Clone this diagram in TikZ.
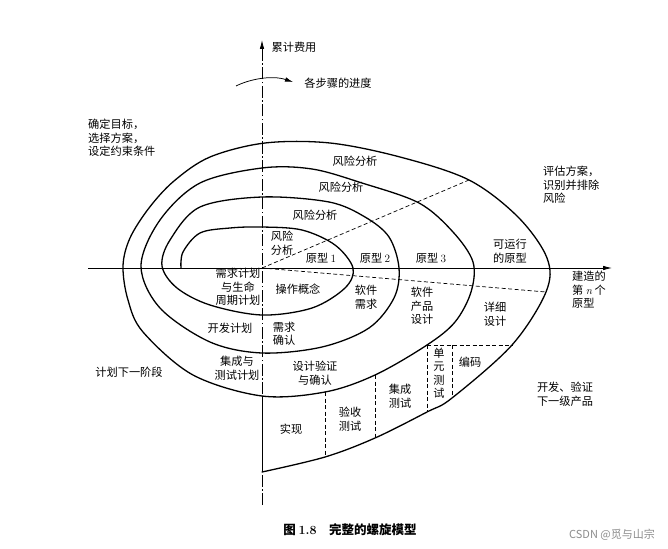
\documentclass[tikz,border=0pt]{standalone}
\usepackage{fontspec}
\newfontfamily\cjk{Noto Sans CJK SC}
\usetikzlibrary{arrows.meta}
\newcommand\latn[1]{{\rmfamily #1}}
\begin{document}
\begin{tikzpicture}[x=1pt,y=-1pt,
  spiral/.style={line width=1.3pt, line join=round, line cap=round},
  axisline/.style={line width=0.75pt},
  dashdot/.style={line width=0.75pt, dash pattern=on 12pt off 2.5pt on 1.5pt off 2.5pt},
  cellline/.style={line width=0.7pt, dash pattern=on 4pt off 2.5pt},
  tip/.style={-{Latex[length=9pt,width=4.5pt]}},
  lbl/.style={font=\cjk\fontsize{11.2}{13.5}\selectfont, inner sep=0pt, align=center},
  lbll/.style={lbl, align=left, anchor=west},
  capt/.style={font=\cjk\bfseries\fontsize{12.5}{14}\selectfont, inner sep=0pt},
  wmark/.style={font=\cjk\fontsize{11}{13}\selectfont, inner sep=0pt, text=black!45}]
\fill[white] (0,0) rectangle (668,548);
\useasboundingbox (0,0) rectangle (668,548);

% key coordinates
\coordinate (O) at (262,268);
\coordinate (hl) at (88,268);
\coordinate (hr) at (612,268);
\coordinate (vtop) at (262,40);
\coordinate (vbot) at (262,505);
\coordinate (b3) at (262,396);
\coordinate (b4) at (262,472);
\coordinate (c3a) at (325,392);
\coordinate (c3b) at (375,375);
\coordinate (c3c) at (427,345);
\coordinate (c4a) at (325,457);
\coordinate (c4b) at (375,438);
\coordinate (c4c) at (427,412);
\coordinate (c4d) at (452,398);
\coordinate (c4e) at (512,345);
\coordinate (c4f) at (452,345);
\coordinate (r1) at (469,180);
\coordinate (r2) at (546,292);
\coordinate (pa) at (236,86);
\coordinate (pb) at (293,82);

% axes
\draw[axisline, tip] (hl) -- (hr);
\draw[dashdot, tip] (vbot) -- (vtop);
\draw[axisline] (b3) -- (b4);

% spiral
\draw[spiral] plot[smooth, tension=0.55] coordinates {
  (181,268) (183,252) (200,233) (230,228) (262,227) (302,230) (335,245)
  (353,268) (345,288) (312,308) (262,315) (210,305) (177,288) (162,266)
  (170,240) (200,207) (262,197) (329,202) (365,217) (389,237)
  (399,268) (394,298) (369,328) (322,347) (262,353) (210,342) (160,308) (141,266)
  (160,220) (200,183) (262,168) (312,169) (362,183) (419,203) (453,232)
  (473,262) (471,292) (455,322) (c3c) (c3b) (c3a) (b3) (193,375) (143,332) (128,300) (123,266)
  (130,238) (149,208) (174,181) (210,157) (265,143) (330,143) (400,157) (r1) (518,217)
  (547,258) (r2) (c4e) (c4d) (c4c) (c4b) (c4a) (b4)};

% dashed rays and cells
\draw[cellline] (O) -- (r1);
\draw[cellline] (O) -- (r2);
\draw[cellline] (c3a) -- (c4a);
\draw[cellline] (c3b) -- (c4b);
\draw[cellline] (c3c) -- (c4c);
\draw[cellline] (c3c) -- (c4e);
\draw[cellline] (c4f) -- (c4d);

% progress arrow
\draw[axisline, -{Latex[length=8pt,width=4.5pt]}] (pa) .. controls (250,79) and (272,75) .. (pb);

% labels
\node[lbl] (cost) at (294,47) {累计费用};
\node[lbl] (prog) at (338,83) {各步骤的进度};
\node[lbll] (goal) at (88,138) {确定目标，\\选择方案，\\设定约束条件};
\node[lbll] (eval) at (543,185) {评估方案，\\识别并排除\\风险};
\node[lbll] (build) at (572,290) {建造的\\第 \latn{\itshape n} 个\\原型};
\node[lbl] (next) at (129,372) {计划下一阶段};
\node[lbl] (dev) at (565,394) {开发、验证\\下一级产品};

\node[lbl] (ra4) at (355,161) {风险分析};
\node[lbl] (ra3) at (341,187) {风险分析};
\node[lbl] (ra2) at (315,215) {风险分析};
\node[lbl, align=left] (ra1) at (282,243) {风险\\分析};
\node[lbl] (p1) at (321,258) {原型 \latn{1}};
\node[lbl] (p2) at (375,258) {原型 \latn{2}};
\node[lbl] (p3) at (431,258) {原型 \latn{3}};
\node[lbl] (pn) at (510,251) {可运行\\的原型};

\node[lbl] (req) at (238,287) {需求计划\\与生命\\周期计划};
\node[lbl] (ops) at (298,289) {操作概念};
\node[lbl] (swr) at (366,297) {软件\\需求};
\node[lbl] (swd) at (422,306) {软件\\产品\\设计};
\node[lbl] (det) at (495,314) {详细\\设计};
\node[lbl] (devp) at (230,328) {开发计划};
\node[lbl] (reqv) at (284,334) {需求\\确认};
\node[lbl] (intp) at (237,368) {集成与\\测试计划};
\node[lbl] (desv) at (315,373) {设计验证\\与确认};
\node[lbl] (impl) at (291,429) {实现};
\node[lbl] (acc) at (350,419) {验收\\测试};
\node[lbl] (intt) at (400,396) {集成\\测试};
\node[lbl] (unit) at (439,373) {单\\元\\测\\试};
\node[lbl] (code) at (470,362) {编码};

\node[capt] (cap) at (350,530) {图 \latn{1.8}\quad 完整的螺旋模型};
\node[wmark] (wm) at (612,535) {CSDN @觅与山宗};
\end{tikzpicture}
\end{document}
